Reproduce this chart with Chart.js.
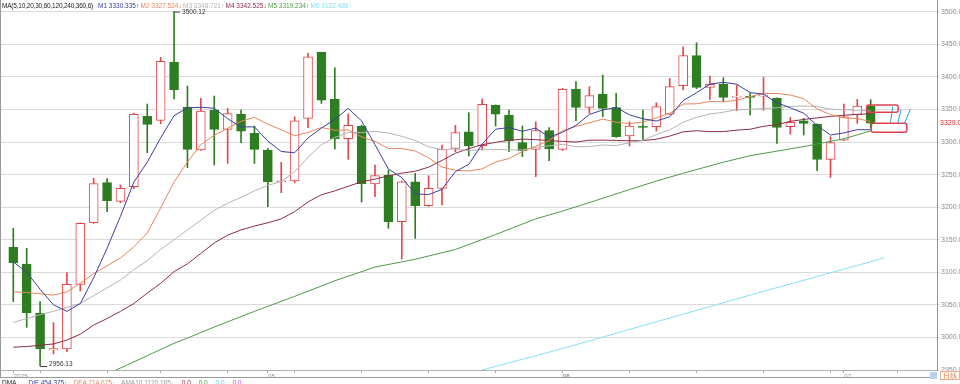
<!DOCTYPE html>
<html>
<head>
<meta charset="utf-8">
<script src="https://cdn.jsdelivr.net/npm/chart.js@4.4.1/dist/chart.umd.min.js"></script>
<style>
  body { margin: 0; background: #fff; }
  #wrap { position: relative; width: 960px; height: 384px; overflow: hidden; font-family: "Liberation Sans", Arial, sans-serif; }
  #legendTop, #legendBot { position: absolute; left: 2px; font-size: 6.5px; white-space: nowrap; }
  #legendTop { top: 2px; }
  #legendBot { top: 379px; }
  .item { display: inline-block; width: 42.5px; }
  .head { display: inline-block; width: 96px; color: #222; letter-spacing: -0.2px; }
  #dayTag { position: absolute; left: 940px; top: 371px; font-size: 6.5px; color: #e07a3a; border: 1px solid #e8b090; padding: 0 2px; line-height: 7px; }
  #dayBox { position: absolute; left: 930px; top: 372px; width: 7px; height: 7px; background: #b8d0f0; }
</style>
</head>
<body>
<div id="wrap">
  <canvas id="kline" width="960" height="384"></canvas>
  <div id="legendTop"></div>
  <div id="legendBot"></div>
  <div id="dayBox"></div>
  <div id="dayTag">日线</div>
</div>
<script>
// velas diárias (abr-jul 2025)
const opens = [3138.3, 3112.7, 3037, 2980.7, 2982.3, 3081.5, 3176, 3237.6, 3208.9, 3231.4,
  3339.4, 3333.2, 3422.7, 3353.7, 3287.7, 3349, 3319.4, 3343, 3313.3, 3287.7,
  3239, 3240.1, 3336.3, 3437.6, 3365.4, 3305, 3324.5, 3235.5, 3249.3, 3177.7,
  3239, 3202.2, 3228.9, 3290.2, 3315.8, 3294.3, 3356.2, 3341.4, 3299, 3288.7,
  3317.4, 3288.7, 3380.8, 3353.2, 3373.6, 3352.7, 3309.2, 3324.5, 3323.5, 3342.9,
  3386.4, 3432.5, 3383.9, 3389, 3369, 3370, 3370.5, 3367, 3323.5, 3332.7,
  3327.6, 3273.4, 3303, 3341.4, 3355.2];
const highs = [3167.5, 3136.8, 3054.9, 3022.7, 3099.4, 3176, 3244.2, 3244, 3234, 3344,
  3358.3, 3429.9, 3500.12, 3386, 3367, 3370.6, 3351.6, 3349, 3324.5, 3290.2,
  3268.8, 3338.8, 3436, 3438, 3414, 3343, 3326, 3264.7, 3257, 3240,
  3251.9, 3248.3, 3295.4, 3325.5, 3345, 3366, 3357, 3349, 3324.5, 3331,
  3322, 3382.3, 3392.6, 3384.9, 3402.8, 3374.7, 3331, 3349, 3360.3, 3397.7,
  3446.3, 3452.4, 3401.3, 3398.7, 3387.4, 3374.7, 3399.2, 3368, 3337.8, 3336.3,
  3328, 3308.1, 3358.3, 3365.4, 3365];
const lows = [3054.9, 3015.5, 2956.13, 2974.6, 2978, 3071.3, 3175, 3193, 3206.9, 3228,
  3283.6, 3328, 3366, 3260.6, 3287, 3264.7, 3267.2, 3299, 3267.2, 3200.7,
  3222.2, 3237.6, 3322, 3359.3, 3289.2, 3273.4, 3207.9, 3216, 3167.5, 3120.4,
  3152, 3201, 3203.3, 3285.1, 3278.5, 3287.7, 3324.5, 3285, 3277.5, 3246.8,
  3271.3, 3287, 3332.7, 3344, 3338.8, 3307, 3293.8, 3303, 3316.8, 3342,
  3379.8, 3382, 3365.4, 3361.9, 3348, 3341.4, 3349, 3297.9, 3312.2, 3310.7,
  3256, 3245.7, 3302, 3328.6, 3321];
const closes = [3114.8, 3038, 2982.3, 2982.8, 3081.5, 3175.1, 3236, 3209.9, 3228.9, 3342.4,
  3327.1, 3423.8, 3379.8, 3288.7, 3347.5, 3319.4, 3343.5, 3316.8, 3288.7, 3238.6,
  3240, 3332.7, 3430.9, 3364.4, 3305, 3325.5, 3236, 3248.3, 3177.7, 3239,
  3202.2, 3228.9, 3288.7, 3314.3, 3294.3, 3357.8, 3342.9, 3301.5, 3286.7, 3317.4,
  3289.2, 3380.8, 3353.2, 3371.1, 3351.6, 3308.1, 3324.5, 3322.5, 3354.2, 3384.9,
  3432.5, 3383.9, 3388.5, 3368.5, 3370, 3368.5, 3371.5, 3322.5, 3330.1, 3328.6,
  3273.4, 3299, 3338.8, 3355.2, 3329.04];

// médias móveis
const ma5 = [3116, 3100, 3074, 3050, 3040, 3052, 3091.5, 3137, 3186, 3238.5,
  3269, 3306.4, 3340.4, 3352.4, 3353.4, 3351.8, 3335.8, 3323.2, 3323.2, 3301.4,
  3285.5, 3283.4, 3306.2, 3321.3, 3334.6, 3351.7, 3332.4, 3295.8, 3258.5, 3245.3,
  3220.6, 3219.2, 3227.3, 3254.6, 3265.7, 3296.8, 3319.6, 3322.2, 3316.6, 3321.3,
  3307.5, 3315.1, 3325.5, 3342.3, 3349.2, 3353, 3341.7, 3335.6, 3332.2, 3338.8,
  3363.7, 3375.6, 3388.8, 3391.7, 3388.7, 3375.9, 3373.4, 3360.2, 3352.5, 3344.2,
  3325.2, 3310.7, 3314, 3319, 3318.7];
const ma10 = [3070, 3069, 3067, 3065, 3070, 3083, 3098, 3110, 3122, 3139.2,
  3160.4, 3199, 3238.7, 3269.3, 3295.9, 3310.4, 3321.1, 3331.8, 3337.8, 3327.4,
  3318.7, 3309.6, 3314.7, 3322.3, 3318, 3318.6, 3307.9, 3301, 3289.9, 3290,
  3286.2, 3275.8, 3261.6, 3256.6, 3255.5, 3258.7, 3269.4, 3274.7, 3285.6, 3293.5,
  3302.2, 3317.4, 3323.8, 3329.5, 3335.2, 3330.3, 3328.4, 3330.5, 3337.3, 3344,
  3358.3, 3358.7, 3362.2, 3361.9, 3363.8, 3369.8, 3374.5, 3374.5, 3372.1, 3366.5,
  3350.6, 3342.1, 3337.1, 3335.8, 3331.5];
const ma20 = [3023, 3029, 3035, 3040, 3046, 3052, 3064, 3076, 3088, 3104,
  3118, 3135, 3150, 3165, 3180, 3195, 3206, 3215, 3225, 3233.3,
  3239.5, 3254.3, 3276.7, 3295.8, 3307, 3314.5, 3314.5, 3316.4, 3313.8, 3308.7,
  3302.4, 3292.7, 3288.1, 3289.4, 3286.7, 3288.7, 3288.6, 3287.9, 3287.8, 3291.7,
  3294.2, 3296.6, 3292.7, 3293, 3295.4, 3294.5, 3298.9, 3302.6, 3311.4, 3318.7,
  3330.3, 3338, 3343, 3345.7, 3349.5, 3350, 3351.5, 3352.5, 3354.7, 3355.2,
  3354.4, 3350.4, 3349.6, 3348.8, 3347.6];
const ma30 = [2985, 2986, 2988, 2990, 2996, 3005, 3019, 3029, 3040, 3052,
  3068, 3083, 3101, 3113, 3129, 3145, 3157, 3165, 3171, 3176,
  3182, 3193, 3208, 3219, 3225, 3232, 3239, 3243, 3248, 3252.2,
  3255.1, 3261.4, 3271.7, 3282.7, 3289.8, 3295.9, 3299.5, 3302.5, 3304.4, 3303.6,
  3302.3, 3300.9, 3300, 3302.8, 3302.9, 3302.5, 3301.9, 3302.1, 3304.3, 3309.1,
  3315.6, 3317.3, 3315.9, 3316, 3318.2, 3319.6, 3324.1, 3326.6, 3331.7, 3334.6,
  3337, 3339.4, 3341, 3342.4, 3343.5];
const ma60Idx = [7, 8, 10, 12, 13, 15, 18, 21, 24, 27, 30, 33, 36, 39, 41, 43, 46, 48, 50, 53, 55, 57, 59, 62, 64];
const ma60 = [2944, 2953, 2972, 2991, 2999, 3016, 3040, 3063, 3087, 3108, 3120, 3135, 3158, 3182, 3194, 3207, 3227, 3240, 3252, 3269, 3279, 3286, 3293, 3305, 3317];
const ma120Idx = [34, 35, 41, 48, 55, 65];
const ma120 = [2944, 2950, 2983, 3024, 3065, 3122];

const maNames = ['M1', 'M2', 'M3', 'M4', 'M5', 'M6'];
const maLegendVals = ['3330.335', '3327.524', '3348.721', '3342.525', '3319.234', '3132.486'];
const maArrows = ['↑', '↓', '↑', '↓', '↑', '↑'];
const maColors = ['#3d3d9e', '#e8855c', '#b4b4b4', '#8e2c45', '#4f9a4a', '#86e0ef'];

const dmaNames = ['DIF', 'DEA', 'AMA10', '', '', '', ''];
const dmaVals = ['454.375↓', '714.675↓', '1120.185↓', '0.0', '0.0', '0.0', '0.0'];
const dmaColors = ['#3d3d9e', '#e8855c', '#999', '#8e2c45', '#4f9a4a', '#5ccfe0', '#d050d0'];

const monthIdx = [0, 19, 41, 62];
const monthLabels = ['2025', '05', '06', '07'];
const weekIdx = [2, 7, 11, 16, 21, 26, 31, 36, 41, 46, 51, 56, 61, 66];
const yTicks = [2950, 3000, 3050, 3100, 3150, 3200, 3250, 3300, 3350, 3400, 3450, 3500];

// desenhos do usuário (em unidades de dados)
const drawBoxes = [[63.7, 66.05, 3356.8, 3345.6], [64.05, 66.7, 3328.7, 3314.9]];
const drawRays = [[65.48, 3330.2, 65.65, 3354.2], [66.02, 3328.7, 66.27, 3350.2], [66.52, 3328.7, 66.97, 3350.2]];

// -- legendas --
const legTop = document.getElementById('legendTop');
legTop.innerHTML = '<span class="head">MA(5,10,20,30,60,120,240,360,6)</span>' +
  maNames.map((n, i) => `<span class="item" style="color:${maColors[i]}">${n} ${maLegendVals[i]}${maArrows[i]}</span>`).join('');
const legBot = document.getElementById('legendBot');
legBot.innerHTML = '<span style="color:#222;margin-right:12px">DMA</span>' +
  dmaNames.map((n, i) => `<span style="color:${dmaColors[i]};margin-right:6px">${n} ${dmaVals[i]}</span>`).join('');

const upColor = '#e4474b';
const downColor = '#2f7d22';
const isUp = closes.map((c, i) => c >= opens[i]);

function idxPoints(vals, idx) {
  return vals.map((v, i) => ({ x: idx ? idx[i] : i, y: v }));
}

const marksPlugin = {
  id: 'marks',
  afterDatasetsDraw(chart) {
    const { ctx, chartArea, scales: { x, y } } = chart;
    ctx.save();
    ctx.font = '6.5px "Liberation Sans", Arial, sans-serif';
    ctx.textBaseline = 'middle';

    // máxima e mínima
    const hi = highs.indexOf(Math.max(...highs));
    const lo = lows.indexOf(Math.min(...lows));
    ctx.strokeStyle = '#444';
    ctx.lineWidth = 1;
    let px = x.getPixelForValue(hi), py = y.getPixelForValue(highs[hi]);
    ctx.beginPath(); ctx.moveTo(px, py + 0.5); ctx.lineTo(px + 6, py + 0.5); ctx.stroke();
    ctx.fillStyle = '#333';
    ctx.fillText(highs[hi].toFixed(2), px + 8, py + 0.5);
    px = x.getPixelForValue(lo); py = y.getPixelForValue(lows[lo]);
    ctx.beginPath(); ctx.moveTo(px + 0.5, py); ctx.lineTo(px + 0.5, py + 0.5); ctx.lineTo(px + 7, py + 0.5); ctx.stroke();
    ctx.fillText(lows[lo].toFixed(2), px + 9, py - 2);

    // caixas e traços
    ctx.strokeStyle = '#e0404e';
    ctx.lineWidth = 1.5;
    drawBoxes.forEach(b => {
      const x0 = x.getPixelForValue(b[0]), x1 = x.getPixelForValue(b[1]);
      const y0 = y.getPixelForValue(b[2]), y1 = y.getPixelForValue(b[3]);
      ctx.beginPath(); ctx.roundRect(x0, y0, x1 - x0, y1 - y0, 2); ctx.stroke();
    });
    ctx.strokeStyle = '#2a9ad8';
    ctx.lineWidth = 1;
    drawRays.forEach(r => {
      ctx.beginPath();
      ctx.moveTo(x.getPixelForValue(r[0]), y.getPixelForValue(r[1]));
      ctx.lineTo(x.getPixelForValue(r[2]), y.getPixelForValue(r[3]));
      ctx.stroke();
    });

    // moldura
    ctx.strokeStyle = '#999';
    ctx.beginPath();
    ctx.moveTo(chartArea.left - 0.5, chartArea.top); ctx.lineTo(chartArea.left - 0.5, x.bottom);
    ctx.moveTo(chartArea.left, x.bottom - 0.5); ctx.lineTo(chartArea.right, x.bottom - 0.5);
    ctx.stroke();

    // último preço
    const last = closes[closes.length - 1];
    ctx.font = '7px "Liberation Sans", Arial, sans-serif';
    ctx.fillStyle = '#e02424';
    ctx.textAlign = 'left';
    ctx.fillText(last.toFixed(2), chartArea.right + 3, y.getPixelForValue(last));
    ctx.restore();
  }
};

new Chart(document.getElementById('kline'), {
  type: 'bar',
  data: {
    datasets: [
      { type: 'line', data: idxPoints(ma5), borderColor: maColors[0], order: 0 },
      { type: 'line', data: idxPoints(ma10), borderColor: maColors[1], order: 0 },
      { type: 'line', data: idxPoints(ma20), borderColor: maColors[2], order: 0 },
      { type: 'line', data: idxPoints(ma30), borderColor: maColors[3], order: 0 },
      { type: 'line', data: idxPoints(ma60, ma60Idx), borderColor: maColors[4], order: 0 },
      { type: 'line', data: idxPoints(ma120, ma120Idx), borderColor: maColors[5], order: 0 },
      {
        data: opens.map((o, i) => ({ x: i, y: [o, closes[i]] })),
        backgroundColor: isUp.map(u => u ? '#ffffff' : downColor),
        borderColor: isUp.map(u => u ? upColor : downColor),
        borderWidth: 1, borderSkipped: false, barThickness: 9, minBarLength: 1,
        grouped: false, order: 1
      },
      {
        data: lows.map((l, i) => ({ x: i, y: [l, highs[i]] })),
        backgroundColor: isUp.map(u => u ? upColor : downColor),
        borderWidth: 0, barThickness: 1, grouped: false, order: 2
      }
    ]
  },
  options: {
    responsive: false,
    animation: false,
    devicePixelRatio: 1,
    layout: { padding: { left: 1, top: 0, right: 0, bottom: 6 } },
    elements: { line: { borderWidth: 1, tension: 0 }, point: { radius: 0 } },
    datasets: { line: { spanGaps: true } },
    plugins: { legend: { display: false }, tooltip: { enabled: false } },
    scales: {
      x: {
        type: 'linear', min: -0.918, max: 68.95, offset: false,
        afterBuildTicks: s => { s.ticks = [...monthIdx, ...weekIdx].sort((a, b) => a - b).map(v => ({ value: v })); },
        afterFit: s => { s.height = 8; s.paddingLeft = 0; s.paddingRight = 0; },
        ticks: {
          callback: v => { const k = monthIdx.indexOf(v); return k >= 0 ? monthLabels[k] : ''; },
          font: { size: 6.5 }, color: '#9a9a9a', padding: 0, align: 'start', maxRotation: 0, autoSkip: false
        },
        grid: { drawOnChartArea: false, offset: false, tickLength: 3, color: '#aaa' },
        border: { color: '#b0b0b0' }
      },
      y: {
        position: 'right', min: 2950, max: 3518,
        afterBuildTicks: s => { s.ticks = yTicks.map(v => ({ value: v })); },
        afterFit: s => { s.width = 23; s.paddingTop = 0; s.paddingBottom = 0; },
        ticks: { callback: v => v.toFixed(2), font: { size: 7 }, color: '#8c8c8c', padding: 1 },
        grid: { color: '#dadada', tickLength: 3 },
        border: { color: '#999' }
      }
    }
  },
  plugins: [marksPlugin]
});
</script>
</body>
</html>
